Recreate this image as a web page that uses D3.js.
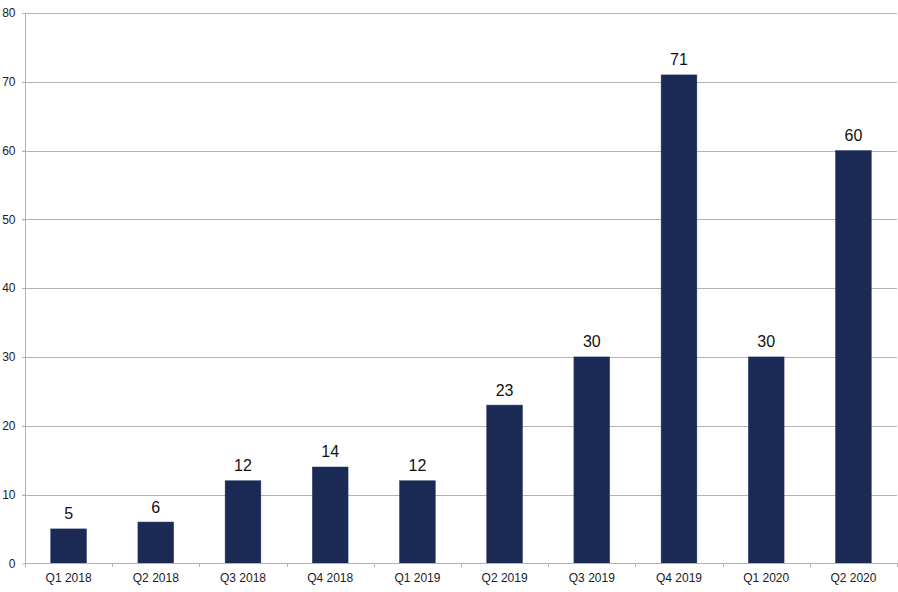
<!DOCTYPE html>
<html><head><meta charset="utf-8">
<script src="https://cdn.jsdelivr.net/npm/d3@7"></script>
<style>body{margin:0;background:#fff}svg{display:block;font-family:"Liberation Sans",Arial,sans-serif}</style>
</head><body><svg id="c" width="898" height="592"></svg>
<script>
const categories = ["Q1 2018","Q2 2018","Q3 2018","Q4 2018","Q1 2019","Q2 2019","Q3 2019","Q4 2019","Q1 2020","Q2 2020"];
const values = [5,6,12,14,12,23,30,71,30,60];
const yTicks = [0,10,20,30,40,50,60,70,80];

const svg = d3.select("#c");
const m = {left:25, right:897, top:13, bottom:563.3};
const x = d3.scaleBand().domain(categories).range([m.left, m.right]).padding(0);
const y = d3.scaleLinear().domain([0,80]).range([m.bottom, m.top]);
const barW = x.bandwidth()*0.41;

// gridlines
svg.append("g").selectAll("line").data(yTicks.filter(d=>d>0)).join("line")
  .attr("x1", m.left-3).attr("x2", m.right)
  .attr("y1", d=>Math.round(y(d))+0.5).attr("y2", d=>Math.round(y(d))+0.5)
  .attr("stroke","#b3b3b3").attr("stroke-width",1);

// y axis
const ya = svg.append("g").attr("transform",`translate(${m.left+0.5},0)`)
  .call(d3.axisLeft(y).tickValues(yTicks).tickSize(3).tickPadding(7));
ya.select(".domain").attr("stroke","#b3b3b3").attr("d",`M0,${m.top}V${m.bottom}`);
ya.selectAll(".tick line").attr("stroke","#b3b3b3");
ya.selectAll(".tick text").attr("font-size",12).attr("fill","#1a1a2a").attr("font-family","Liberation Sans, Arial, sans-serif");

// bars
svg.append("g").selectAll("rect").data(values).join("rect")
  .attr("x",(d,i)=>x(categories[i])+x.bandwidth()/2-barW/2)
  .attr("width",barW)
  .attr("y",d=>y(d)).attr("height",d=>y(0)-y(d))
  .attr("fill","#1a2a55").attr("stroke","#2a3a66").attr("stroke-width",0.5);

// x axis
const xa = svg.append("g").attr("transform",`translate(0,${Math.round(y(0))+0.5})`)
  .call(d3.axisBottom(x).tickSize(0).tickPadding(10));
xa.select(".domain").attr("stroke","#b3b3b3").attr("d",`M${m.left},0H${m.right}`);
xa.selectAll(".tick text").attr("font-size",12).attr("fill","#1a1a2a").attr("font-family","Liberation Sans, Arial, sans-serif");
// boundary tick marks
svg.append("g").selectAll("line").data(d3.range(categories.length+1)).join("line")
  .attr("x1",i=>Math.round(m.left + i*x.step())+0.5).attr("x2",i=>Math.round(m.left + i*x.step())+0.5)
  .attr("y1",Math.round(y(0))).attr("y2",Math.round(y(0))+4)
  .attr("stroke","#b3b3b3");

// labels
svg.append("g").selectAll("text").data(values).join("text")
  .attr("x",(d,i)=>x(categories[i])+x.bandwidth()/2)
  .attr("y",d=>y(d)-9.5)
  .attr("text-anchor","middle").attr("font-size",16).attr("fill","#111")
  .text(d=>d);
</script></body></html>
